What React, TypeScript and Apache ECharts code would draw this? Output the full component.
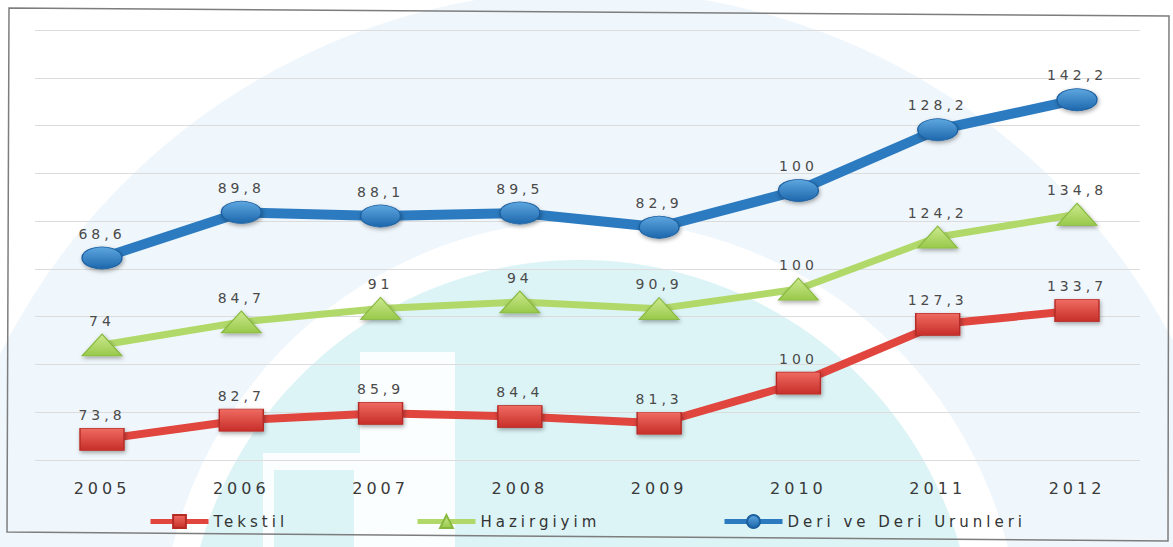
import React, { useEffect, useRef } from "react";
import * as echarts from "echarts";

const years = ["2005", "2006", "2007", "2008", "2009", "2010", "2011", "2012"];
const tekstil = [73.8, 82.7, 85.9, 84.4, 81.3, 100, 127.3, 133.7];
const hazirgiyim = [74, 84.7, 91, 94, 90.9, 100, 124.2, 134.8];
const deri = [68.6, 89.8, 88.1, 89.5, 82.9, 100, 128.2, 142.2];
const seriesNames = ["Tekstil", "Hazirgiyim", "Deri ve Deri Urunleri"];

// 3D depth offset of each series (Excel 3D line look): visible value window of each axis
const tekstilRange = [64.2, 264.2];
const hazirRange = [20.5, 220.5];
const deriRange = [-25.4, 174.6];
const wallSteps = 9;

const fmt = (p: any) => String(p.value).replace(".", ",");

const grad = (top: string, bottom: string) =>
  new echarts.graphic.LinearGradient(0, 0, 0, 1, [
    { offset: 0, color: top },
    { offset: 1, color: bottom },
  ]);

export default function App() {
  const ref = useRef<HTMLDivElement>(null);
  useEffect(() => {
    if (!ref.current) return;
    const chart = echarts.init(ref.current, undefined, { renderer: "svg" });
    const labelStyle = {
      show: true,
      position: "top" as const,
      distance: 6,
      formatter: fmt,
      fontSize: 14,
      color: "#4a4a4a",
      fontFamily: "DejaVu Sans",
    };
    const shadow = {
      shadowColor: "rgba(0,0,0,0.35)",
      shadowBlur: 4,
      shadowOffsetX: 1,
      shadowOffsetY: 2,
    };
    const hiddenY = (r: number[]) => ({
      gridIndex: 1,
      type: "value" as const,
      min: r[0],
      max: r[1],
      show: false,
      splitLine: { show: false },
    });
    const legendBase = {
      top: 509,
      itemWidth: 58,
      itemHeight: 16,
      lineStyle: { width: 5 },
      textStyle: { fontSize: 15, color: "#333", fontFamily: "DejaVu Sans" },
    };
    chart.setOption({
      animation: false,
      backgroundColor: "#ffffff",
      textStyle: { fontFamily: "DejaVu Sans" },
      graphic: [
        {
          type: "circle",
          z: -20,
          silent: true,
          shape: { cx: 590, cy: 650, r: 545 },
          style: { fill: "none", stroke: "#f0f7fc", lineWidth: 230 },
        },
        {
          type: "circle",
          z: -19,
          silent: true,
          shape: { cx: 580, cy: 655, r: 395 },
          style: { fill: "#dcf4f6" },
        },
        {
          type: "rect",
          z: -18,
          silent: true,
          shape: { x: 360, y: 352, width: 95, height: 200 },
          style: { fill: "#fbfefe" },
        },
        {
          type: "rect",
          z: -18,
          silent: true,
          shape: { x: 263, y: 453, width: 100, height: 100 },
          style: { fill: "#fbfefe" },
        },
        {
          type: "rect",
          z: -17,
          silent: true,
          shape: { x: 274, y: 470, width: 80, height: 80 },
          style: { fill: "#dcf4f6" },
        },
        {
          type: "polygon",
          z: 50,
          silent: true,
          shape: {
            points: [
              [9, 8],
              [1169, 16],
              [1168, 541],
              [7, 532],
            ],
          },
          style: { fill: "none", stroke: "#7d7d7d", lineWidth: 1.5 },
        },
      ],
      grid: [
        { left: 35, right: 33, top: 30, bottom: 87 },
        { left: 102, right: 96, top: 30, bottom: 87 },
      ],
      xAxis: [
        { gridIndex: 0, type: "category", data: years, show: false },
        {
          gridIndex: 1,
          type: "category",
          data: years,
          boundaryGap: false,
          axisLine: { show: false },
          axisTick: { show: false },
          splitLine: { show: false },
          axisLabel: { margin: 20, fontSize: 16, color: "#3a3a3a", fontFamily: "DejaVu Sans" },
        },
      ],
      yAxis: [
        {
          gridIndex: 0,
          type: "value",
          min: 0,
          max: wallSteps,
          interval: 1,
          axisLabel: { show: false },
          axisLine: { show: false },
          axisTick: { show: false },
          splitLine: { lineStyle: { color: "#dcdcdc", width: 1 } },
        },
        hiddenY(tekstilRange),
        hiddenY(hazirRange),
        hiddenY(deriRange),
      ],
      legend: [
        { ...legendBase, left: 143, data: [seriesNames[0]] },
        { ...legendBase, left: 410, data: [seriesNames[1]] },
        { ...legendBase, left: 717, data: [seriesNames[2]] },
      ],
      series: [
        {
          name: seriesNames[0],
          type: "line",
          xAxisIndex: 1,
          yAxisIndex: 1,
          data: tekstil,
          symbol: "rect",
          symbolSize: [44, 22],
          lineStyle: { color: "#e0453e", width: 8 },
          itemStyle: { color: grad("#ef6b62", "#c72e29"), borderColor: "#b52a25", borderWidth: 1, ...shadow },
          label: labelStyle,
          z: 3,
        },
        {
          name: seriesNames[1],
          type: "line",
          xAxisIndex: 1,
          yAxisIndex: 2,
          data: hazirgiyim,
          symbol: "triangle",
          symbolSize: [40, 22],
          lineStyle: { color: "#b1d96a", width: 7 },
          itemStyle: { color: grad("#cde98f", "#98c94a"), borderColor: "#86b83e", borderWidth: 1, ...shadow },
          label: labelStyle,
          z: 3,
        },
        {
          name: seriesNames[2],
          type: "line",
          xAxisIndex: 1,
          yAxisIndex: 3,
          data: deri,
          symbol: "circle",
          symbolSize: [40, 22],
          lineStyle: { color: "#2c7bc0", width: 10 },
          itemStyle: { color: grad("#5ea7e0", "#1d67ac"), borderColor: "#1b5f9f", borderWidth: 1, ...shadow },
          label: labelStyle,
          z: 3,
        },
      ],
    });
    return () => chart.dispose();
  }, []);
  return (
    <div
      ref={ref}
      style={{
        position: "fixed",
        left: 0,
        top: 0,
        width: 1173,
        height: 547,
        letterSpacing: "4px",
        background: "#fff",
      }}
    />
  );
}
